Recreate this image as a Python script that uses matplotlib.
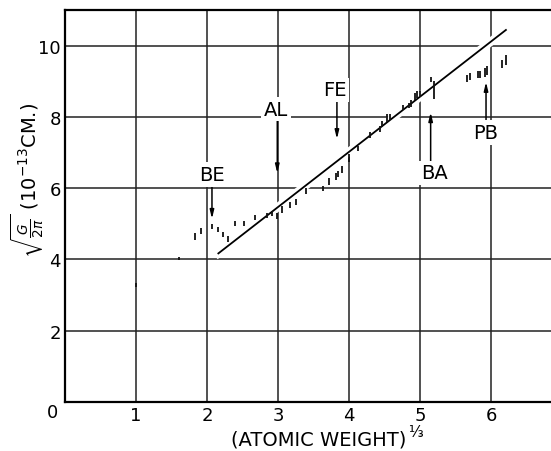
import matplotlib
matplotlib.use("Agg")
import matplotlib.pyplot as plt
import matplotlib.patheffects as pe

plt.rcParams['font.family'] = ['DejaVu Sans']
plt.rcParams['mathtext.fontset'] = 'dejavusans'

# measured points: (atomic weight)^1/3 vs sqrt(G/2pi)
a13 = [1.00, 1.60, 1.83, 1.91, 2.07, 2.15, 2.22, 2.30, 2.40, 2.52,
       2.67, 2.85, 2.91, 2.99, 3.05, 3.17, 3.26, 3.40, 3.63, 3.72,
       3.82, 3.85, 3.90, 4.00, 4.13, 4.30, 4.44, 4.46, 4.53, 4.58,
       4.76, 4.84, 4.88, 4.93, 4.96, 5.00, 5.16, 5.20, 5.66, 5.70,
       5.81, 5.85, 5.92, 5.94, 6.15, 6.21]
radius = [3.29, 4.03, 4.64, 4.80, 4.93, 4.84, 4.70, 4.57, 5.01, 5.01,
          5.18, 5.24, 5.29, 5.22, 5.40, 5.52, 5.61, 5.92, 5.99, 6.19,
          6.33, 6.39, 6.52, 6.85, 7.11, 7.50, 7.66, 7.80, 7.97, 7.99,
          8.27, 8.32, 8.38, 8.57, 8.62, 8.64, 9.05, 8.75, 9.09, 9.13,
          9.20, 9.18, 9.25, 9.30, 9.48, 9.59]
err = [0.05, 0.05, 0.09, 0.09, 0.07, 0.07, 0.07, 0.08, 0.08, 0.08,
       0.08, 0.07, 0.07, 0.09, 0.09, 0.08, 0.08, 0.09, 0.06, 0.09,
       0.09, 0.09, 0.10, 0.12, 0.08, 0.08, 0.08, 0.08, 0.10, 0.08,
       0.07, 0.08, 0.10, 0.10, 0.10, 0.08, 0.08, 0.25, 0.10, 0.10,
       0.10, 0.10, 0.12, 0.12, 0.12, 0.14]

# straight line fit
fit_x = [2.16, 6.21]
fit_y = [4.17, 10.44]

# element labels: name, label position, arrow tail, arrow head
labels = ['BE', 'AL', 'FE', 'BA', 'PB']
label_xy = [(2.07, 6.38), (2.97, 8.22), (3.80, 8.76), (5.20, 6.43), (5.92, 7.56)]
arrow_from = [(2.07, 6.07), (2.99, 7.92), (3.83, 8.45), (5.15, 6.75), (5.93, 7.88)]
arrow_to = [(2.07, 5.14), (2.99, 6.42), (3.83, 7.38), (5.15, 8.13), (5.93, 8.98)]

fig = plt.figure(figsize=(5.51, 4.52), dpi=100)
ax = fig.add_axes([65/551, 1 - 403/452, 1 - 65/551, 392/452])
ax.set_xlim(0, 486/71)
ax.set_ylim(0, 11)

ax.set_xticks([1, 2, 3, 4, 5, 6])
ax.set_yticks([2, 4, 6, 8, 10])
ax.tick_params(length=0, labelsize=13, pad=3)
ax.grid(True, color='#222222', lw=1.1, zorder=0)
ax.set_axisbelow(True)
for s in ['left', 'bottom', 'top']:
    ax.spines[s].set_linewidth(1.6)
ax.spines['right'].set_visible(False)

ax.plot(fit_x, fit_y, color='black', lw=1.3, zorder=3,
        path_effects=[pe.Stroke(linewidth=6, foreground='white'), pe.Normal()])

ax.errorbar(a13, radius, yerr=err, fmt='none', ecolor='#111111',
            elinewidth=1.3, zorder=4)

for name, lxy, tail, head in zip(labels, label_xy, arrow_from, arrow_to):
    ax.annotate('', xy=head, xytext=tail, zorder=5,
                arrowprops=dict(arrowstyle='-|>,head_width=0.12,head_length=0.5',
                                color='black', lw=1.1, shrinkA=0, shrinkB=0))
    ax.text(lxy[0], lxy[1], name, fontsize=14, ha='center', va='center', zorder=6,
            bbox=dict(facecolor='white', edgecolor='none', pad=2))

fig.text(53/551, 1 - 413/452, '0', fontsize=13, ha='center', va='center')
fig.text(406/551, 1 - 440/452, '(ATOMIC WEIGHT)', fontsize=14,
         ha='right', va='center')
fig.text(408/551, 1 - 433/452, '⅓', fontsize=11, ha='left', va='center')
fig.text(27/551, 1 - 180/452, r'$\sqrt{\frac{G}{2\pi}}$ (10$^{-13}$CM.)',
         fontsize=14, rotation=90, ha='center', va='center')

fig.savefig('out.png', dpi=100)
